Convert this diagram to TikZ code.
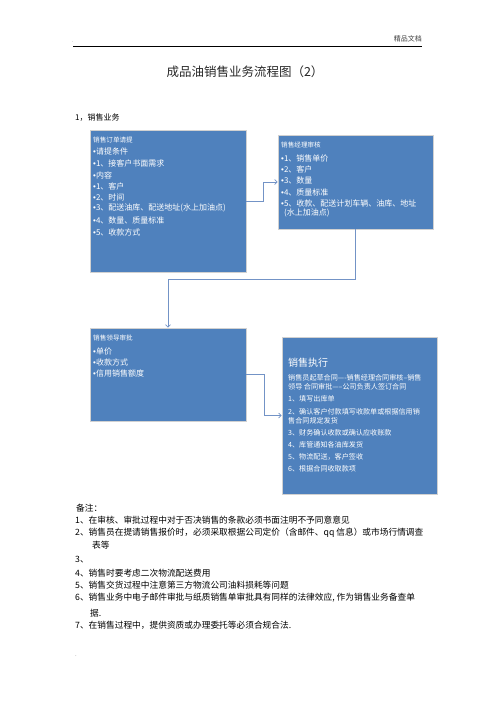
\documentclass[tikz,border=0pt]{standalone}
\usepackage{fontspec}
\setmainfont{Noto Sans CJK SC}
\newfontfamily\latinf{Liberation Sans}
\newcommand\mybul{{\latinf •}}
\usetikzlibrary{arrows.meta}
\definecolor{boxblue}{HTML}{4F81BD}
\definecolor{linkblue}{HTML}{7393C6}
\begin{document}
\begin{tikzpicture}[x=1pt,y=-1pt,
  box/.style={rectangle, fill=boxblue, draw=black!18, line width=0.8pt, inner sep=0},
  conn/.style={draw=linkblue, line width=0.7pt, -{Straight Barb[length=2.5pt,width=5pt]}},
  bt/.style={anchor=west, inner sep=0, text=white, font=\fontsize{8}{9}\selectfont},
  bh/.style={bt, font=\fontsize{6.6}{8}\selectfont},
  bs/.style={bt, font=\fontsize{7.1}{8}\selectfont},
  nt/.style={anchor=west, inner sep=0, font=\fontsize{8.7}{10}\selectfont},
]
\useasboundingbox (0,0) rectangle (496,702);

% header
\coordinate (hl) at (73,46);
\coordinate (hr) at (422,46);
\draw[line width=1pt] (hl) -- (hr);
\node[anchor=east, inner sep=0, font=\fontsize{7}{8}\selectfont, text=black!75] (hdr) at (422,39) {精品文档};
\node[anchor=west, inner sep=0, font=\fontsize{5}{6}\selectfont, text=black!50] (dot1) at (72,42) {.};

% title
\node[inner sep=0, font=\fontsize{12.5}{14}\selectfont, text=black!85] (title) at (245,72) {成品油销售业务流程图（2）};
\node[anchor=west, inner sep=0, font=\fontsize{8}{9}\selectfont] (sec) at (75,118) {1，销售业务};

% boxes
\node[box, minimum width=156pt, minimum height=142pt] (b1) at (168,201) {};
\node[box, minimum width=155pt, minimum height=94pt] (b2) at (355.5,182) {};
\node[box, minimum width=156pt, minimum height=93pt] (b3) at (168,374.5) {};
\node[box, minimum width=155pt, minimum height=157pt] (b4) at (359.5,415.5) {};

% box 1 text
\node[bh] (a0) at (93,140) {销售订单请提};
\node[bt] (a1) at (93,151) {\mybul 请提条件};
\node[bt] (a2) at (93,163) {\mybul 1、接客户书面需求};
\node[bt] (a3) at (93,175) {\mybul 内容};
\node[bt] (a4) at (93,186) {\mybul 1、客户};
\node[bt] (a5) at (93,197) {\mybul 2、时间};
\node[bt] (a6) at (93,208) {\mybul 3、配送油库、配送地址(水上加油点)};
\node[bt] (a7) at (93,220) {\mybul 4、数量、质量标准};
\node[bt] (a8) at (93,232) {\mybul 5、收款方式};

% box 2 text
\node[bh] (c0) at (281,145) {销售经理审核};
\node[bt] (c1) at (281,158) {\mybul 1、销售单价};
\node[bt] (c2) at (281,169) {\mybul 2、客户};
\node[bt] (c3) at (281,180) {\mybul 3、数量};
\node[bt] (c4) at (281,192) {\mybul 4、质量标准};
\node[bt] (c5) at (281,203) {\mybul 5、收款、配送计划车辆、油库、地址};
\node[bt] (c6) at (284,213) {(水上加油点)};

% box 3 text
\node[bh] (d0) at (93,338) {销售领导审批};
\node[bt] (d1) at (93,351) {\mybul 单价};
\node[bt] (d2) at (93,362) {\mybul 收款方式};
\node[bt] (d3) at (93,373) {\mybul 信用销售额度};

% box 4 text
\node[bt, font=\fontsize{10}{12}\selectfont] (e0) at (288,363) {销售执行};
\node[bs] (e1) at (288,378) {销售员起草合同----销售经理合同审核--销售};
\node[bs] (e2) at (288,387) {领导 合同审批-----公司负责人签订合同};
\node[bs] (e3) at (288,399) {1、填写出库单};
\node[bs] (e4) at (288,412) {2、确认客户付款填写收款单或根据信用销};
\node[bs] (e5) at (288,421) {售合同规定发货};
\node[bs] (e6) at (288,433) {3、财务确认收款或确认应收账款};
\node[bs] (e7) at (288,445) {4、库管通知各油库发货};
\node[bs] (e8) at (288,457) {5、物流配送，客户签收};
\node[bs] (e9) at (288,469) {6、根据合同收取款项};

% connectors
\draw[conn] (b1.east) -- ++(17,0) |- (b2.west);
\coordinate (j2) at (168,279);
\draw[conn] (b2.south) |- (j2) -- (b3.north);
\draw[conn] (b3.east) -- ++(18,0) |- (b4.west);

% notes
\node[nt] (n0) at (76,508) {备注：};
\node[nt] (n1) at (75,520) {1、在审核、审批过程中对于否决销售的条款必须书面注明不予同意意见};
\node[nt] (n2) at (75,533) {2、销售员在提请销售报价时，必须采取根据公司定价（含邮件、qq 信息）或市场行情调查};
\node[nt] (n2b) at (92,545) {表等};
\node[nt] (n3) at (75,560) {3、};
\node[nt] (n4) at (75,573) {4、销售时要考虑二次物流配送费用};
\node[nt] (n5) at (75,585) {5、销售交货过程中注意第三方物流公司油料损耗等问题};
\node[nt] (n6) at (75,598) {6、销售业务中电子邮件审批与纸质销售单审批具有同样的法律效应, 作为销售业务备查单};
\node[nt] (n6b) at (90,613) {据.};
\node[nt] (n7) at (75,625) {7、在销售过程中，提供资质或办理委托等必须合规合法.};
\node[anchor=west, inner sep=0, font=\fontsize{6}{7}\selectfont, text=black!50] (dot2) at (75,656) {.};
\end{tikzpicture}
\end{document}
